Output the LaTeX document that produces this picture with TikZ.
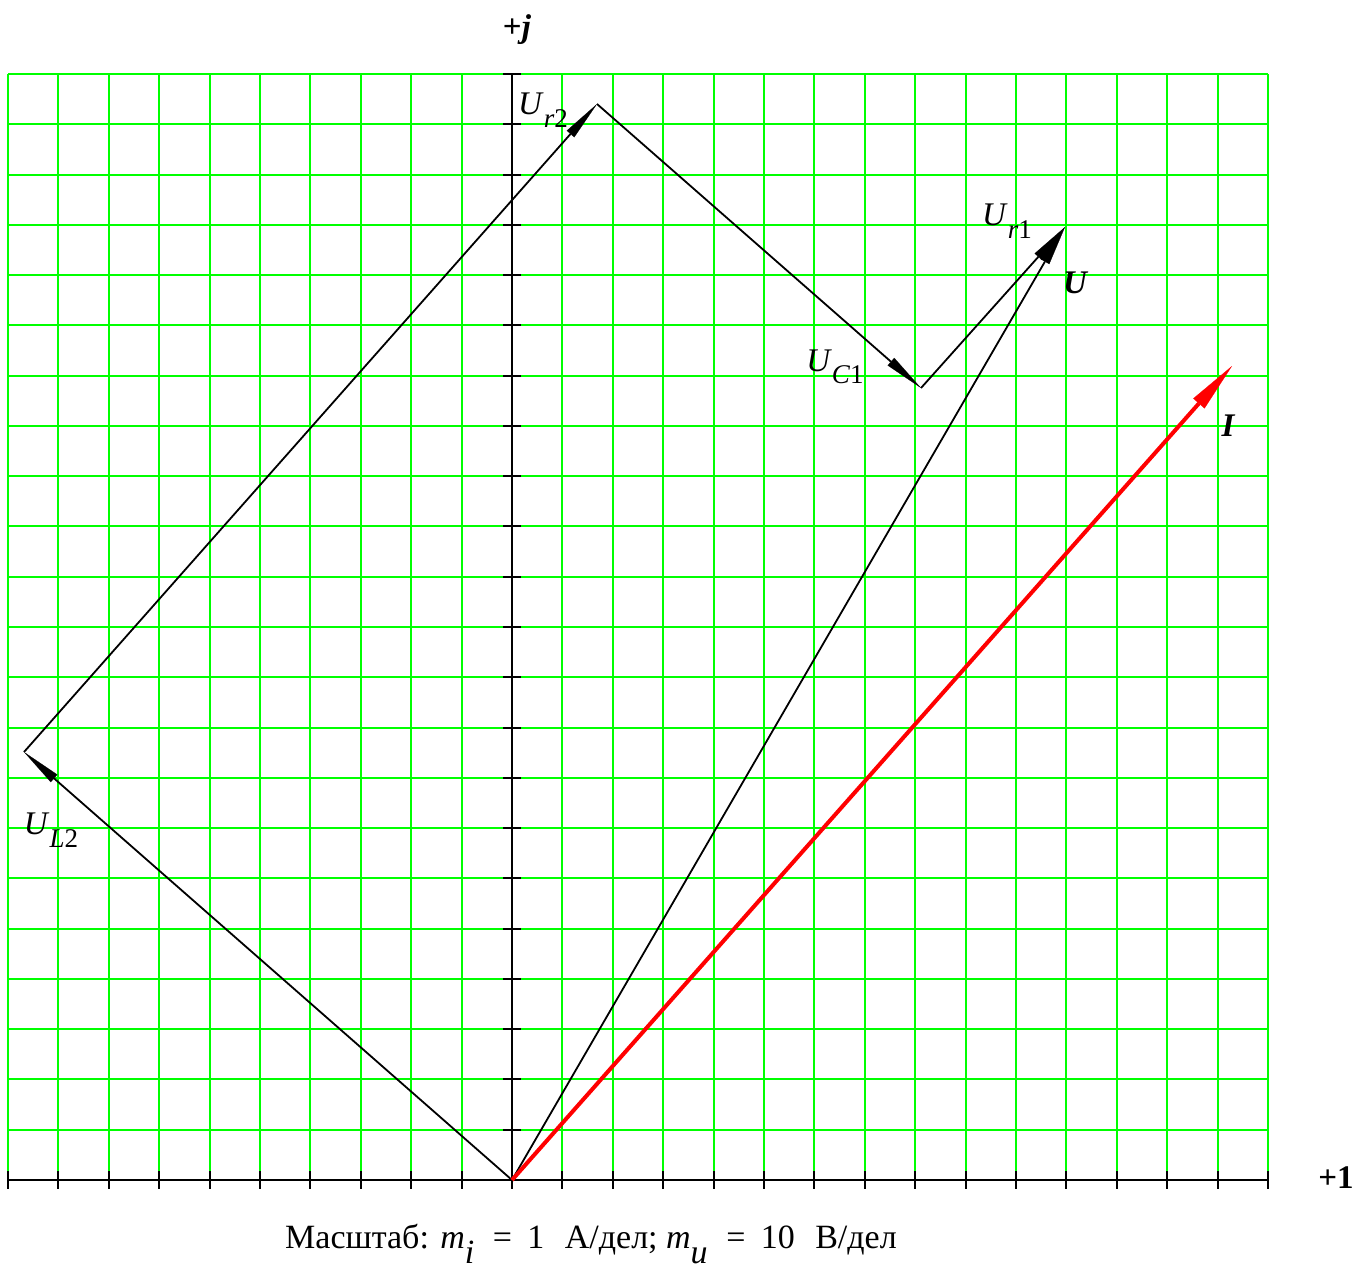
\documentclass[tikz,border=0pt]{standalone}
\usepackage{fontspec}
\setmainfont{Liberation Serif}
\usetikzlibrary{arrows.meta}
\definecolor{gridgreen}{RGB}{0,255,0}
\newcommand{\ulab}[2]{\textit{U}\raisebox{-0.38em}{\fontsize{27}{27}\selectfont\textit{#1}#2}}
\begin{document}
\begin{tikzpicture}[x=1pt,y=-1pt,
  gridline/.style={gridgreen, line width=1.5pt},
  axisline/.style={black, line width=1.8pt},
  tick/.style={black, line width=1.8pt},
  vec/.style={black, line width=1.8pt, -{Triangle[length=40pt,width=10pt,line width=0.2pt]}},
  ivec/.style={red, line width=4pt, -{Triangle[length=50pt,width=15pt,line width=0.2pt]}},
  lbl/.style={font=\fontsize{33}{33}\selectfont, inner sep=0pt},
  boldlbl/.style={font=\fontsize{33}{33}\selectfont\bfseries\itshape, inner sep=0pt},
  axlbl/.style={font=\fontsize{33}{33}\selectfont\bfseries, inner sep=0pt}]
\useasboundingbox (0,0) rectangle (1372,1272);
% grid
\foreach \i in {0,...,25} \draw[gridline] ({round(8+50.4*\i)},74) -- ({round(8+50.4*\i)},1180);
\foreach \j in {1,...,22} \draw[gridline] (8,{round(1180-50.27*\j)}) -- (1268,{round(1180-50.27*\j)});
% axes
\draw[axisline] (8,1180) -- (1268,1180);
\draw[axisline] (512,1180) -- (512,74);
\foreach \i in {0,...,25} \draw[tick] ({round(8+50.4*\i)},1171) -- ({round(8+50.4*\i)},1189);
\foreach \j in {1,...,22} \draw[tick] (503,{round(1180-50.27*\j)}) -- (521,{round(1180-50.27*\j)});
% points
\coordinate (O) at (512,1180);
\coordinate (A) at (24,752);
\coordinate (B) at (597,104);
\coordinate (C) at (921,388);
\coordinate (D) at (1065,227);
\coordinate (E) at (1232,366);
% vectors
\draw[vec] (O) -- (A);
\draw[vec] (A) -- (B);
\draw[vec] (B) -- (C);
\draw[vec] (C) -- (D);
\draw[vec] (O) -- (D);
\draw[ivec] (O) -- (E);
% labels
\node[lbl] (lr2) at (543,110) {\ulab{r}{2}};
\node[lbl] (ll2) at (51,830) {\ulab{L}{2}};
\node[lbl] (lc1) at (835,367) {\ulab{C}{1}};
\node[lbl] (lr1) at (1007,221) {\ulab{r}{1}};
\node[boldlbl] (lu) at (1075,283) {U};
\node[boldlbl] (li) at (1228,426) {I};
\node[axlbl] (lj) at (517,30) {+\textit{j}};
\node[axlbl] (l1) at (1336,1178) {+1};
\node[font=\fontsize{34}{34}\selectfont, inner sep=0pt] (cap) at (591,1244)
  {Масштаб: \textit{m}\raisebox{-0.45em}{\textit{i}}\hspace{0.3em} = \hspace{0.2em}1\hspace{0.6em}А/дел; \textit{m}\raisebox{-0.45em}{\textit{u}}\hspace{0.3em} = \hspace{0.2em}10\hspace{0.6em}В/дел};
\end{tikzpicture}
\end{document}
